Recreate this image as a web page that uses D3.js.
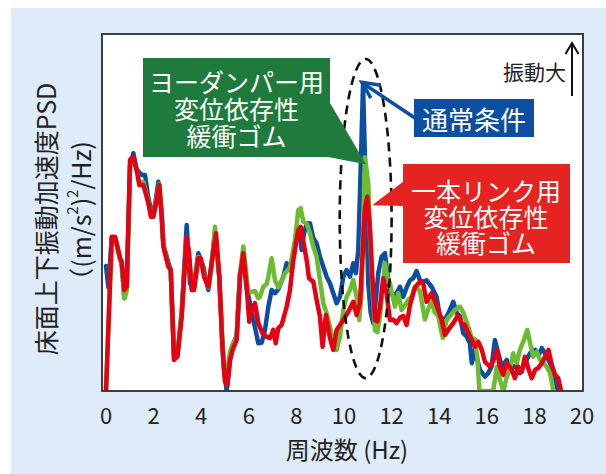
<!DOCTYPE html>
<html><head><meta charset="utf-8">
<script src="https://cdn.jsdelivr.net/npm/d3@7"></script>
<style>
html,body{margin:0;padding:0;background:#fff;}
svg{display:block;}
text{font-family:"Noto Sans CJK JP","Noto Sans",sans-serif;}
</style></head>
<body>
<svg id="c" width="606" height="474"></svg>
<script>
// ---- data (PSD, relative units 0-100; frequency in Hz) ----
const xTicks = [0,2,4,6,8,10,12,14,16,18,20];

const normalF = [0,0.1,0.24,0.38,0.59,0.66,0.77,0.87,1.01,1.15,1.29,1.5,1.64,1.78,1.92,2.06,2.2,2.34,2.41,2.62,2.72,2.86,3.0,3.18,3.39,3.53,3.7,3.88,4.09,4.3,4.44,4.58,4.76,4.93,5.07,5.21,5.35,5.49,5.63,5.77,5.91,6.05,6.19,6.4,6.54,6.68,6.82,6.96,7.1,7.24,7.45,7.59,7.7,7.84,8.01,8.12,8.22,8.32,8.43,8.57,8.71,8.85,8.99,9.13,9.27,9.41,9.55,9.69,9.83,9.97,10.11,10.25,10.39,10.5,10.6,10.7,10.8,10.9,11.02,11.12,11.23,11.33,11.44,11.58,11.72,11.82,11.93,12.07,12.21,12.35,12.49,12.63,12.77,12.91,13.05,13.19,13.33,13.47,13.68,13.89,14.03,14.24,14.45,14.59,14.74,14.87,15.01,15.16,15.29,15.37,15.5,15.71,15.92,16.06,16.2,16.34,16.48,16.63,16.84,16.97,17.18,17.39,17.6,17.82,18.03,18.17,18.31,18.45,18.66,18.8,18.94,19.0];
const normalV = [35,29,43,43,37,36,26,29,63,66.6,62,60.5,60.5,54,50,52,58.6,50,41,36,34,9,10,22,46.5,30,30,38.6,34.8,28.3,36,44.6,32,7.8,0,8.7,13.4,15.4,33,37.2,29,24.6,20,13.4,13.5,17.1,23.6,28.3,27.4,28.5,32,35.8,33.9,35.8,44.2,45,39.5,44.2,47,47,42.8,41.4,37.6,34.8,32,30.2,27.4,24.6,26.4,32,33.9,32,35.8,33,39.5,62,86,60,30,22,19,25,33,37.6,38.6,33,28.3,26.5,27.4,29.2,26.4,29,31,31.6,33.6,31,30.6,31,29.2,26.4,20.8,19.9,22.7,25,21.8,21,16.2,15.2,13.4,7.8,11.5,5.9,4,5,6.8,14.3,10.6,6.8,8.7,6.4,7,5,7.8,10.6,11.5,10,12,10.5,7.8,5.4,1.2,0];

const yawF = [0,0.24,0.38,0.59,0.66,0.77,0.87,1.01,1.12,1.29,1.4,1.57,1.78,1.89,1.99,2.13,2.24,2.34,2.41,2.62,2.72,2.86,3.0,3.18,3.39,3.49,3.6,3.7,3.88,3.98,4.12,4.3,4.44,4.58,4.76,4.89,5.0,5.1,5.21,5.32,5.49,5.63,5.77,5.98,6.12,6.26,6.4,6.47,6.61,6.75,6.82,6.96,7.1,7.24,7.38,7.52,7.73,7.94,8.08,8.18,8.29,8.43,8.57,8.71,8.85,8.99,9.13,9.27,9.41,9.55,9.69,9.83,9.97,10.11,10.25,10.39,10.53,10.64,10.74,10.88,11.02,11.09,11.19,11.3,11.4,11.51,11.62,11.72,11.82,11.93,12.03,12.14,12.28,12.42,12.56,12.7,12.84,12.98,13.19,13.4,13.54,13.68,13.82,13.96,14.15,14.31,14.45,14.66,14.87,15.01,15.22,15.37,15.5,15.6,15.69,16.27,16.42,16.55,16.7,16.84,16.97,17.11,17.26,17.39,17.56,17.7,17.82,17.95,18.1,18.24,18.38,18.52,18.66,18.8];
const yawV = [0,42,43,37,35,26,28,63,65,62,58.5,58.5,53,49,49,54,58,49,41,35,34,9.5,10,22,43,38,29,29,37.5,37,33,29,35,46,32,13,5,5,11,13,15,33,40.5,27.4,27.8,28,26,26.4,29.2,30,32,37.2,31,29,31,33,34.6,42.3,50.7,51.2,47.4,47,44.2,40.4,37.6,31.1,24.6,21.8,18,13.4,11.5,15.2,22.7,26.4,28.3,31.1,26.4,19.9,27.4,65.5,58,44,30,17,16.5,20.8,28.3,35.8,32,30.2,27,23.6,27.4,22.7,24,25.5,26.4,29.2,28,20,23,25,22,21,14.8,19.9,21,22.7,23.6,22,18,14.8,14.5,9.6,0,0,6.8,3.1,0,4,5.9,10.6,7.8,11.5,14.3,17.1,13.4,9.6,11,8.7,7.8,6.8,5,0];

const linkF = [0,0.24,0.38,0.59,0.66,0.77,0.87,1.01,1.12,1.29,1.4,1.57,1.78,1.89,1.99,2.13,2.24,2.34,2.41,2.62,2.72,2.86,3.0,3.18,3.39,3.49,3.6,3.7,3.88,3.98,4.12,4.3,4.44,4.62,4.76,4.89,5.0,5.1,5.21,5.32,5.49,5.63,5.77,5.91,6.02,6.12,6.26,6.4,6.57,6.75,6.89,7.03,7.13,7.24,7.38,7.59,7.73,7.87,8.08,8.18,8.29,8.43,8.53,8.71,8.85,8.99,9.1,9.24,9.41,9.55,9.69,9.83,9.97,10.18,10.39,10.53,10.67,10.79,10.88,10.98,11.09,11.19,11.3,11.4,11.51,11.65,11.79,11.93,12.07,12.21,12.35,12.49,12.63,12.77,12.98,13.19,13.33,13.47,13.68,13.89,14.1,14.24,14.38,14.59,14.8,14.94,15.08,15.22,15.37,15.5,15.64,15.79,15.92,16.13,16.28,16.42,16.55,16.69,16.84,17.05,17.18,17.32,17.47,17.6,17.74,17.89,18.03,18.17,18.31,18.45,18.59,18.73,18.87,19.0,19.12];
const linkV = [0,43.2,43.2,37.3,36.2,28.3,29.2,64.7,65.6,61.9,57.7,57.7,52.6,48.8,48.8,53.5,57.7,48.8,40.4,34.8,33.9,8.7,9.6,20.8,43.2,38.6,28.3,28.3,37.2,37.2,32,29.2,35.8,44.2,32,12.4,2.6,1.7,8.7,11.5,14.3,32,38.6,29.2,19.4,22.7,24.6,19,16.2,15.2,14.8,17.1,13.4,17.6,18.5,23.6,28.3,36.7,45.1,46,41.8,36.7,31.6,30.6,25.5,20.8,12.4,21.3,14.8,11.5,17.1,18.5,19.9,22.2,25,21.3,24.6,39.5,51.2,54.4,46,32,19.9,19.5,23.6,31.6,27.4,19.9,20,19,20.5,21,18.5,24,29,30.6,30,25,27.4,24,20,15.7,17.1,19,21.3,19,18.5,16.2,14.3,12.4,13.8,11.5,8.2,6.8,8.5,11.5,6.8,4.5,7.8,5.9,3.6,6.8,5.4,9.6,6.4,3.6,5.9,6.5,7.8,9.6,11.5,7.3,4.5,3.6,0];

const normalLabel = ["通常条件"];
const yawLabel = ["ヨーダンパー用","変位依存性","緩衝ゴム"];
const linkLabel = ["一本リンク用","変位依存性","緩衝ゴム"];
const xTitle = "周波数 (Hz)";
const yTitle1 = "床面上下振動加速度PSD";

// ---- drawing ----
const svg = d3.select("#c");
const W = 606, H = 474;
svg.append("rect").attr("x",0).attr("y",0).attr("width",W).attr("height",H).attr("fill","#fff");
svg.append("rect").attr("x",11).attr("y",8).attr("width",W-11).attr("height",H-8).attr("fill","#deebf8");

const x = d3.scaleLinear().domain([0,20]).range([106,582]);
const y = d3.scaleLinear().domain([0,100]).range([391,34]);

const fx0 = x(0)-4, fx1 = x(20)+1, fy0 = y(100), fy1 = y(0);
svg.append("rect").attr("x",fx0).attr("y",fy0).attr("width",fx1-fx0).attr("height",fy1-fy0)
  .attr("fill","#fff").attr("stroke","#333").attr("stroke-width",1.5);

svg.append("clipPath").attr("id","clip").append("rect")
  .attr("x",fx0).attr("y",fy0).attr("width",fx1-fx0).attr("height",fy1-fy0);

const line = d3.line().x(d=>x(d[0])).y(d=>y(Math.max(0,d[1])));
const zip = (f,v)=>f.map((d,i)=>[d,v[i]]);
const series = [
  {data:zip(normalF,normalV), color:"#0b4ea2"},
  {data:zip(yawF,yawV), color:"#6cbb30"},
  {data:zip(linkF,linkV), color:"#e60012"}
];
const g = svg.append("g").attr("clip-path","url(#clip)");
g.selectAll("path.s").data(series).join("path").attr("class","s")
  .attr("d",d=>line(d.data)).attr("fill","none").attr("stroke",d=>d.color)
  .attr("stroke-width",4.5).attr("stroke-linejoin","round").attr("stroke-linecap","round");

svg.append("rect").attr("x",fx0).attr("y",fy0).attr("width",fx1-fx0).attr("height",fy1-fy0)
  .attr("fill","none").attr("stroke","#333").attr("stroke-width",1.5);

// x tick labels
svg.selectAll("text.xt").data(xTicks).join("text").attr("class","xt")
  .attr("x",d=>x(d)).attr("y",414).attr("text-anchor","middle").attr("dominant-baseline","central")
  .attr("font-size",22).attr("fill","#222").text(d=>d);

svg.append("text").attr("x",347).attr("y",448).attr("text-anchor","middle").attr("dominant-baseline","central")
  .attr("font-size",24).attr("fill","#222").text(xTitle);

// y title
svg.append("text").attr("transform","translate(45,219) rotate(-90)").attr("text-anchor","middle")
  .attr("dominant-baseline","central").attr("font-size",25).attr("fill","#222").text(yTitle1);
const yt2 = svg.append("text").attr("transform","translate(80,217) rotate(-90)").attr("text-anchor","middle")
  .attr("dominant-baseline","central").attr("font-size",25).attr("fill","#222");
yt2.append("tspan").text("（(m/s");
yt2.append("tspan").attr("font-size",15).attr("dy",-9).text("2");
yt2.append("tspan").attr("dy",9).text(")");
yt2.append("tspan").attr("font-size",15).attr("dy",-9).text("2");
yt2.append("tspan").attr("dy",9).text("/Hz)");

// dashed ellipse around the ~11 Hz peak
const ex0 = x(9.82), ex1 = x(12.0);
svg.append("ellipse").attr("cx",(ex0+ex1)/2).attr("cy",(y(93)+y(3.6))/2)
  .attr("rx",(ex1-ex0)/2).attr("ry",(y(3.6)-y(93))/2)
  .attr("fill","none").attr("stroke","#111").attr("stroke-width",2.6).attr("stroke-dasharray","9,6");

function multiline(lines, cx, y0, dy, size){
  const t = svg.append("text").attr("text-anchor","middle").attr("font-size",size).attr("fill","#fff");
  lines.forEach((s,i)=>{
    t.append("tspan").attr("x",cx).attr("y",y0+i*dy).attr("dominant-baseline","central").text(s);
  });
  return t;
}

// green callout
const gTip = [x(10.92), y(63.5)];
svg.append("path").attr("d",`M330,103 L${gTip[0]},${gTip[1]} L328,157 Z`).attr("fill","#1e7b3b");
svg.append("rect").attr("x",143).attr("y",58).attr("width",187).attr("height",99).attr("fill","#1e7b3b");
multiline(yawLabel, 236.5, 81, 27, 25);

// blue callout with arrow
const bTip = [x(10.75), y(86.5)];
svg.append("line").attr("x1",415).attr("y1",118).attr("x2",bTip[0]+1).attr("y2",bTip[1]+1)
  .attr("stroke","#0b4ea2").attr("stroke-width",3.5);
svg.append("path").attr("d",`M${bTip[0]+19},${bTip[1]+3} L${bTip[0]},${bTip[1]} L${bTip[0]+9},${bTip[1]+16}`)
  .attr("fill","none").attr("stroke","#0b4ea2").attr("stroke-width",3.5).attr("stroke-linejoin","miter");
svg.append("rect").attr("x",414).attr("y",99).attr("width",120).attr("height",38).attr("fill","#0b4ea2");
multiline(normalLabel, 474, 118, 0, 26);

// red callout
const rTip = [x(11.18), y(52)];
svg.append("path").attr("d",`M404,181 L${rTip[0]},${rTip[1]} L404,206 Z`).attr("fill","#e52421");
svg.append("rect").attr("x",403).attr("y",164).attr("width",167).attr("height",99).attr("fill","#e52421");
multiline(linkLabel, 486, 190, 26, 25);

// "振動大" indicator
svg.append("text").attr("x",566).attr("y",71).attr("text-anchor","end").attr("dominant-baseline","central")
  .attr("font-size",21).attr("fill","#222").text("振動大");
svg.append("line").attr("x1",572).attr("y1",96).attr("x2",572).attr("y2",43).attr("stroke","#111").attr("stroke-width",2);
svg.append("path").attr("d","M565.5,54 L572,43 L578.5,54").attr("fill","none").attr("stroke","#111").attr("stroke-width",2);
</script>
</body></html>
